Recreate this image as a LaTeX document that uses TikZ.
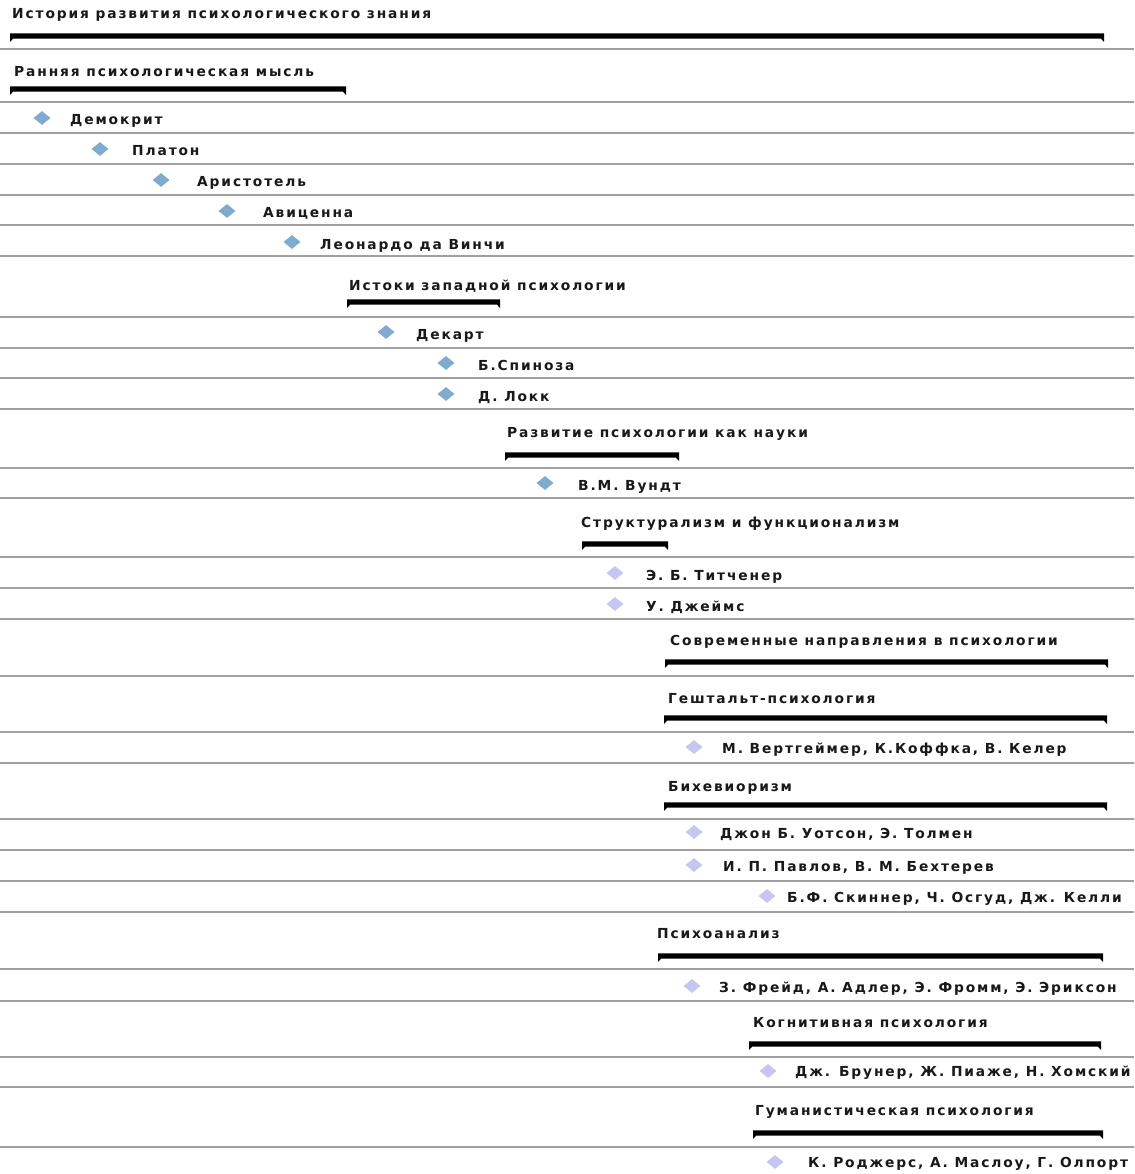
\documentclass[tikz,border=0pt]{standalone}
\usepackage{fontspec}
\setmainfont{DejaVu Sans}[LetterSpace=13.5]
\usetikzlibrary{shapes.geometric}
\definecolor{linegray}{RGB}{160,160,160}
\definecolor{msb}{RGB}{128,170,206}
\definecolor{msl}{RGB}{198,198,240}
\definecolor{txt}{RGB}{25,25,25}
\newcommand\lblfont{\fontsize{13.8}{15}\selectfont\bfseries}
\newcommand\gbar[3]{\fill[black] (#1,#3-2.7) -- (#2,#3-2.7) -- (#2,#3+6) -- (#2-3,#3+2.7) -- (#1+3,#3+2.7) -- (#1,#3+6) -- cycle;}
\tikzset{
  rowline/.style={draw=linegray, line width=1.9pt},
  lbl/.style={anchor=base west, inner sep=0pt, font=\lblfont, text=txt},
  msblue/.style={diamond, fill=msb, minimum width=17pt, minimum height=14pt, inner sep=0pt},
  mslav/.style={diamond, fill=msl, minimum width=17pt, minimum height=14pt, inner sep=0pt}
}
\begin{document}
\begin{tikzpicture}[x=1pt,y=-1pt]
\useasboundingbox[fill=white] (0,0) rectangle (1134,1174);
% row separators
\foreach \yy in {49,102,133,164,195,225,256,317,348,378,409,468,498,557,588,619,676,732,763,819,850,881,912,969,1001,1057,1087,1147}
  \draw[rowline] (0,\yy) -- (1134,\yy);
% summary rows
\node[lbl] (h0) at (12,19) {История развития психологического знания};
\gbar{10}{1104}{36}
\node[lbl] (h1) at (14,77) {Ранняя психологическая мысль};
\gbar{10}{346}{89}
\node[lbl] (h2) at (349,290) {Истоки западной психологии};
\gbar{347}{500}{302}
\node[lbl] (h3) at (507,437) {Развитие психологии как науки};
\gbar{505}{679}{455}
\node[lbl] (h4) at (581,527) {Структурализм и функционализм};
\gbar{582}{668}{544}
\node[lbl] (h5) at (670,645) {Современные направления в психологии};
\gbar{665}{1108}{662}
\node[lbl] (h6) at (668,703) {Гештальт-психология};
\gbar{664}{1107}{718}
\node[lbl] (h7) at (668,791) {Бихевиоризм};
\gbar{664}{1107}{805}
\node[lbl] (h8) at (657,938) {Психоанализ};
\gbar{658}{1103}{956}
\node[lbl] (h9) at (753,1027) {Когнитивная психология};
\gbar{749}{1101}{1044}
\node[lbl] (h10) at (755,1115) {Гуманистическая психология};
\gbar{753}{1103}{1133}
% milestones
\node[msblue] (d1) at (42,118) {};  \node[lbl] (t1) at (70,125) {Демокрит};
\node[msblue] (d2) at (100,149) {}; \node[lbl] (t2) at (132,156) {Платон};
\node[msblue] (d3) at (161,180) {}; \node[lbl] (t3) at (197,187) {Аристотель};
\node[msblue] (d4) at (227,211) {}; \node[lbl] (t4) at (263,218) {Авиценна};
\node[msblue] (d5) at (292,242) {}; \node[lbl] (t5) at (320,249) {Леонардо да Винчи};
\node[msblue] (d6) at (386,332) {}; \node[lbl] (t6) at (416,339) {Декарт};
\node[msblue] (d7) at (446,363) {}; \node[lbl] (t7) at (478,370) {Б.Спиноза};
\node[msblue] (d8) at (446,394) {}; \node[lbl] (t8) at (478,401) {Д. Локк};
\node[msblue] (d9) at (545,483) {}; \node[lbl] (t9) at (578,490) {В.М. Вундт};
\node[mslav] (d10) at (615,573) {}; \node[lbl] (t10) at (646,580) {Э. Б. Титченер};
\node[mslav] (d11) at (615,604) {}; \node[lbl] (t11) at (646,611) {У. Джеймс};
\node[mslav] (d12) at (694,747) {}; \node[lbl] (t12) at (722,753) {М. Вертгеймер, К.Коффка, В. Келер};
\node[mslav] (d13) at (694,832) {}; \node[lbl] (t13) at (720,838) {Джон Б. Уотсон, Э. Толмен};
\node[mslav] (d14) at (694,865) {}; \node[lbl] (t14) at (723,871) {И. П. Павлов, В. М. Бехтерев};
\node[mslav] (d15) at (767,896) {}; \node[lbl] (t15) at (787,902) {Б.Ф. Скиннер, Ч. Осгуд, Дж. Келли};
\node[mslav] (d16) at (692,986) {}; \node[lbl] (t16) at (719,992) {З. Фрейд, А. Адлер, Э. Фромм, Э. Эриксон};
\node[mslav] (d17) at (768,1071) {}; \node[lbl] (t17) at (795,1076) {Дж. Брунер, Ж. Пиаже, Н. Хомский};
\node[mslav] (d18) at (775,1162) {}; \node[lbl] (t18) at (808,1167) {К. Роджерс, А. Маслоу, Г. Олпорт};
\end{tikzpicture}
\end{document}
